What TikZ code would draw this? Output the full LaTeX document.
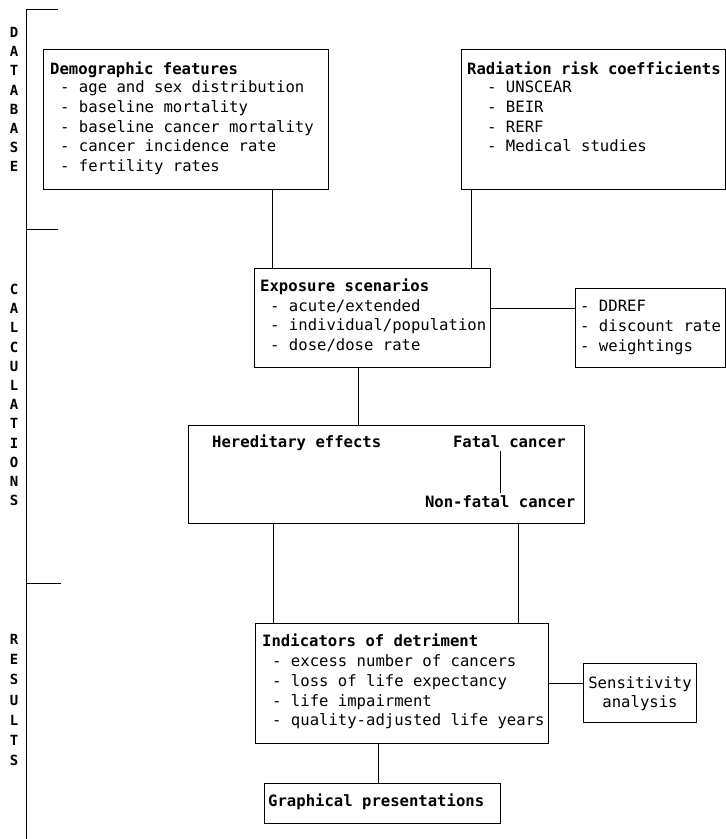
\documentclass[tikz,border=0pt]{standalone}
\usepackage{fontspec}
\newfontfamily\monofam{DejaVu Sans Mono}
\usepackage{tikz}

\tikzset{
  box/.style={draw, line width=0.8pt, inner sep=0pt, outer sep=0pt},
  link/.style={line width=0.8pt},
  boxtitle/.style={anchor=base west, inner sep=0pt, font=\monofam\bfseries\fontsize{15.6}{19.7}\selectfont},
  items/.style={anchor=north west, inner sep=0pt, align=left, font=\monofam\fontsize{15.6}{19.7}\selectfont},
  sidelabel/.style={anchor=north, inner sep=0pt, align=center, font=\monofam\bfseries\fontsize{14}{19.2}\selectfont},
}

\begin{document}
\begin{tikzpicture}[x=1pt, y=-1pt]
  \useasboundingbox (0,0) rectangle (726,839);

  % bracket and section letters
  \draw[link] (58,9) -- (26,9) -- (26,839);
  \draw[link] (26,229) -- (58,229);
  \draw[link] (26,583) -- (61,583);
  \node[sidelabel] (database) at (14,27) {D\\A\\T\\A\\B\\A\\S\\E};
  \node[sidelabel] (calculations) at (14,284) {C\\A\\L\\C\\U\\L\\A\\T\\I\\O\\N\\S};
  \node[sidelabel, font=\monofam\bfseries\fontsize{14}{20.2}\selectfont] (results) at (14,634) {R\\E\\S\\U\\L\\T\\S};

  % database
  \node[box, minimum width=285, minimum height=140] (demo) at (185.5,119) {};
  \node[boxtitle] (demoT) at (50,74.5) {Demographic features};
  \node[items] (demoL) at (60,80.7) {- age and sex distribution\\- baseline mortality\\- baseline cancer mortality\\- cancer incidence rate\\- fertility rates};

  \node[box, minimum width=264, minimum height=140] (risk) at (593,119) {};
  \node[boxtitle] (riskT) at (467,74.5) {Radiation risk coefficients};
  \node[items] (riskL) at (487,81.1) {- UNSCEAR\\- BEIR\\- RERF\\- Medical studies};

  % calculations
  \node[box, minimum width=236, minimum height=99] (expo) at (372,317.5) {};
  \node[boxtitle] (expoT) at (260,291.5) {Exposure scenarios};
  \node[items] (expoL) at (270,299.2) {- acute/extended\\- individual/population\\- dose/dose rate};

  \node[box, minimum width=150, minimum height=79] (param) at (650,327.5) {};
  \node[items] (paramL) at (580,300.1) {- DDREF\\- discount rate\\- weightings};

  \node[box, minimum width=396, minimum height=98] (effects) at (386,474) {};
  \node[boxtitle] (hered) at (212,447.5) {Hereditary effects};
  \node[boxtitle, outer sep=3pt] (fatal) at (450,447.5) {Fatal cancer};
  \node[boxtitle, outer sep=3pt] (nonfatal) at (422,507.5) {Non-fatal cancer};

  % results
  \node[box, minimum width=293, minimum height=120] (indic) at (401.5,683) {};
  \node[boxtitle] (indicT) at (262,646.5) {Indicators of detriment};
  \node[items] (indicL) at (272,654.6) {- excess number of cancers\\- loss of life expectancy\\- life impairment\\- quality-adjusted life years};

  \node[box, minimum width=113, minimum height=59] (sens) at (639.5,692.5) {};
  \node[items, anchor=north, align=center] (sensL) at (640,676.1) {Sensitivity\\analysis};

  \node[box, minimum width=236, minimum height=40] (graph) at (382,803) {};
  \node[boxtitle] (graphT) at (268,806.5) {Graphical presentations};

  % connectors
  \draw[link] (demo.south -| 272,0) -- (expo.north -| 272,0);
  \draw[link] (risk.south -| 471,0) -- (expo.north -| 471,0);
  \draw[link] (expo.east |- 0,308) -- (param.west |- 0,308);
  \draw[link] (expo.south -| 358,0) -- (effects.north -| 358,0);
  \draw[link] (fatal.south -| 500,0) -- (nonfatal.north -| 500,0);
  \draw[link] (effects.south -| 273,0) -- (indic.north -| 273,0);
  \draw[link] (effects.south -| 518,0) -- (indic.north -| 518,0);
  \draw[link] (indic.east |- 0,683) -- (sens.west |- 0,683);
  \draw[link] (indic.south -| 378,0) -- (graph.north -| 378,0);
\end{tikzpicture}
\end{document}
